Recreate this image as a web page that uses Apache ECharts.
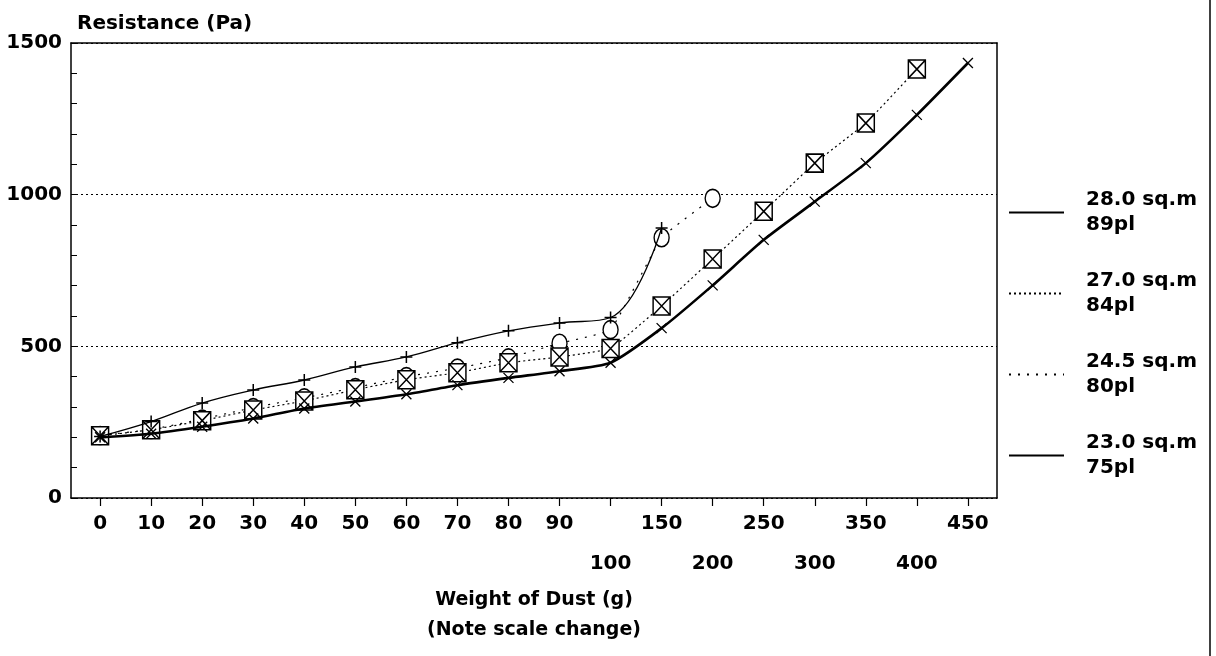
<!DOCTYPE html>
<html>
<head>
<meta charset="utf-8">
<script src="https://cdn.jsdelivr.net/npm/echarts@6/dist/echarts.min.js"></script>
<style>
html, body { margin: 0; padding: 0; background: #fff; }
#chart { width: 1216px; height: 656px; }
</style>
</head>
<body>
<div id="chart"></div>
<script>
// tick labels along the x axis (scale changes after 90 g)
var tickLabels = ['0', '10', '20', '30', '40', '50', '60', '70', '80', '90',
	'100', '150', '200', '250', '300', '350', '400', '450'];
var lowerRow = ['100', '200', '300', '400'];

// resistance (Pa) read at each tick, null = no reading
var r28 = [200, 212, 235, 262, 295, 318, 342, 372, 396, 418, 446, 560, 701, 851, 977, 1104, 1263, 1434];
var r27 = [205, 225, 255, 290, 320, 357, 390, 413, 446, 465, 493, 633, 788, 945, 1104, 1236, 1414, null];
var r245 = [206, 226, 260, 298, 330, 364, 400, 428, 462, 510, 555, 858, 988, null, null, null, null, null];
var r23 = [203, 252, 313, 356, 389, 432, 465, 512, 551, 577, 595, 890, null, null, null, null, null, null];

var names = ['28.0 sq.m\n89pl', '27.0 sq.m\n84pl', '24.5 sq.m\n80pl', '23.0 sq.m\n75pl'];

var FONT = 'DejaVu Sans';

function pts(vals){
	var out = [];
	vals.forEach(function(v, i){
		if (v != null) out.push([i, v]);
	});
	return out;
}

var tickIdx = tickLabels.map(function(t, i){ return i; });

var markCross = 'path://M0,0L10,10M10,0L0,10';
var markPlus = 'path://M5,0L5,10M0,5L10,5';
var markBox = 'path://M0,0L10,0L10,10L0,10ZM0,0L10,10M10,0L0,10';

var chart = echarts.init(document.getElementById('chart'));
var option = {
	backgroundColor: '#fff',
	animation: false,
	textStyle: { fontFamily: FONT, color: '#000' },
	grid: { left: 71, right: 219, top: 43, bottom: 158, containLabel: false, outerBoundsMode: 'none' },
	legend: {
		orient: 'vertical',
		left: 1008,
		top: 175,
		padding: 0,
		itemWidth: 55,
		itemHeight: 14,
		itemGap: 6,
		selectedMode: false,
		data: names,
		itemStyle: { opacity: 0 },
		textStyle: {
			fontFamily: FONT, fontWeight: 'bold', fontSize: 20, color: '#000',
			lineHeight: 25, padding: [25, 0, 0, 17]
		}
	},
	xAxis: [{
		type: 'value',
		min: -0.57,
		max: 17.57,
		name: 'Weight of Dust (g)\n(Note scale change)',
		nameLocation: 'middle',
		nameGap: 87,
		nameTextStyle: { fontFamily: FONT, fontWeight: 'bold', fontSize: 19, lineHeight: 30, color: '#000' },
		splitLine: { show: false },
		axisLine: { show: true, onZero: false, lineStyle: { color: '#000', width: 1.5 } },
		axisTick: { show: true, customValues: tickIdx, length: 8, lineStyle: { color: '#000', width: 1.2 } },
		axisLabel: {
			customValues: tickIdx,
			margin: 16,
			fontFamily: FONT, fontWeight: 'bold', fontSize: 20, color: '#000',
			formatter: function(v){
				var t = tickLabels[Math.round(v)];
				return lowerRow.indexOf(t) >= 0 ? '{lo|' + t + '}' : '{hi|' + t + '}';
			},
			rich: {
				hi: { fontFamily: FONT, fontWeight: 'bold', fontSize: 20, color: '#000' },
				lo: { fontFamily: FONT, fontWeight: 'bold', fontSize: 20, color: '#000', padding: [40, 0, 0, 0] }
			}
		}
	}, {
		type: 'value',
		position: 'top',
		min: -0.57,
		max: 17.57,
		axisLine: { show: true, onZero: false, lineStyle: { color: '#000', width: 1.5 } },
		axisTick: { show: false },
		axisLabel: { show: false },
		splitLine: { show: false }
	}],
	yAxis: [{
		type: 'value',
		min: 0,
		max: 1500,
		interval: 500,
		name: 'Resistance (Pa)',
		nameLocation: 'end',
		nameGap: 9,
		nameTextStyle: { fontFamily: FONT, fontWeight: 'bold', fontSize: 20, color: '#000', align: 'left', padding: [0, 0, 0, 6] },
		axisLine: { show: true, onZero: false, lineStyle: { color: '#000', width: 1.5 } },
		axisTick: { show: true, inside: true, length: 6, lineStyle: { color: '#000' } },
		minorTick: { show: true, splitNumber: 5, length: 6, lineStyle: { color: '#000' } },
		axisLabel: {
			margin: 9, fontFamily: FONT, fontWeight: 'bold', fontSize: 20, color: '#000',
			formatter: function(v){ return String(v); }
		},
		splitLine: { show: true, lineStyle: { color: '#000', type: [2, 3], width: 1.2 } }
	}, {
		type: 'value',
		position: 'right',
		min: 0,
		max: 1500,
		axisLine: { show: true, onZero: false, lineStyle: { color: '#000', width: 1.5 } },
		axisTick: { show: false },
		axisLabel: { show: false },
		splitLine: { show: false }
	}],
	series: [{
		name: names[2],
		type: 'line',
		data: pts(r245),
		z: 2,
		smooth: 0.1,
		symbol: 'circle',
		symbolSize: [15, 18],
		lineStyle: { color: '#000', width: 1.2, type: [2, 7] },
		itemStyle: { color: '#fff', borderColor: '#000', borderWidth: 1.5 }
	}, {
		name: names[1],
		type: 'line',
		data: pts(r27),
		z: 3,
		smooth: 0.1,
		symbol: markBox,
		symbolSize: [17, 18],
		lineStyle: { color: '#000', width: 1.2, type: [2, 3] },
		itemStyle: { color: '#fff', borderColor: '#000', borderWidth: 1.5 }
	}, {
		name: names[0],
		type: 'line',
		data: pts(r28),
		z: 4,
		smooth: 0.2,
		symbol: markCross,
		symbolSize: 10,
		lineStyle: { color: '#000', width: 2.6 },
		itemStyle: { color: 'rgba(0,0,0,0)', borderColor: '#000', borderWidth: 1.3 }
	}, {
		name: names[3],
		type: 'line',
		data: pts(r23),
		z: 5,
		smooth: 0.4,
		symbol: markPlus,
		symbolSize: 12,
		lineStyle: { color: '#000', width: 1.3 },
		itemStyle: { color: 'rgba(0,0,0,0)', borderColor: '#000', borderWidth: 1.5 }
	}],
	graphic: [{
		type: 'line',
		shape: { x1: 1210, y1: 0, x2: 1210, y2: 656 },
		style: { stroke: '#000', lineWidth: 1.5 }
	}]
};
chart.setOption(option);
</script>
</body>
</html>
